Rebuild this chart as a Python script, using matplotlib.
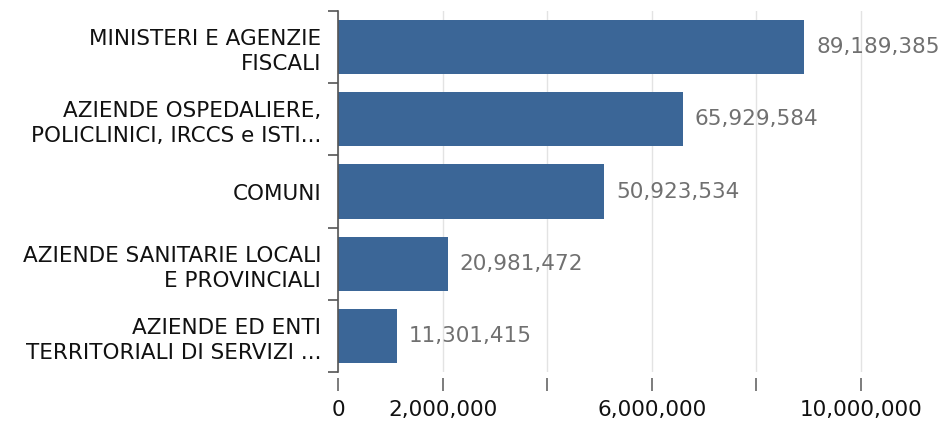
import matplotlib
matplotlib.use("Agg")
import matplotlib.pyplot as plt
import numpy as np

categories = [
    "MINISTERI E AGENZIE\nFISCALI",
    "AZIENDE OSPEDALIERE,\nPOLICLINICI, IRCCS e ISTI...",
    "COMUNI",
    "AZIENDE SANITARIE LOCALI\nE PROVINCIALI",
    "AZIENDE ED ENTI\nTERRITORIALI DI SERVIZI ...",
]
values = [89189385, 65929584, 50923534, 20981472, 11301415]
value_labels = ["89,189,385", "65,929,584", "50,923,534", "20,981,472", "11,301,415"]
xtick_values = [0, 20000000, 40000000, 60000000, 80000000, 100000000]
xtick_labels = ["0", "2,000,000", "", "6,000,000", "", "10,000,000"]

plt.rcParams['font.family'] = ['DejaVu Sans']
fig = plt.figure(figsize=(9.46, 4.23), dpi=100)
ax = fig.add_axes([338/946, 1-372/423, (930-338)/946, (372-11)/423])

ax.spines["bottom"].set_position(("outward", 4))
ax.spines["bottom"].set_visible(False)
ax.spines["top"].set_visible(False)
ax.spines["right"].set_visible(False)
ax.spines["left"].set_color("#555555")
ax.spines["left"].set_linewidth(1.2)

n = len(categories)
ypos = np.arange(n)[::-1]
bar_color = "#3b6697"
ax.barh(ypos, values, height=0.75, color=bar_color, zorder=2)
for y, v, lab in zip(ypos, values, value_labels):
    ax.text(v + 2.3e6, y, lab, va="center", ha="left", fontsize=15.5, color="#707070")

ax.set_ylim(-0.5, n - 0.5)
ax.set_xlim(0, 113.2e6)

ax.set_yticks(np.arange(-0.5, n, 1.0))
ax.set_yticklabels([])
ax.set_yticks(ypos, minor=True)
ax.set_yticklabels(categories, minor=True, fontsize=15.5, color="#111111", ha="right", linespacing=1.3)
ax.tick_params(axis="y", which="major", length=7, color="#555555", width=1.2)
ax.tick_params(axis="y", which="minor", length=0, pad=12)

ax.set_xticks(xtick_values)
ax.set_xticklabels(xtick_labels, fontsize=15.5, color="#111111")
ax.tick_params(axis="x", which="major", length=9, color="#666666", width=1.2, pad=7)

ax.grid(axis="x", color="#e3e3e3", linewidth=1, zorder=0)
ax.set_axisbelow(True)

fig.savefig("out.png", dpi=100)
